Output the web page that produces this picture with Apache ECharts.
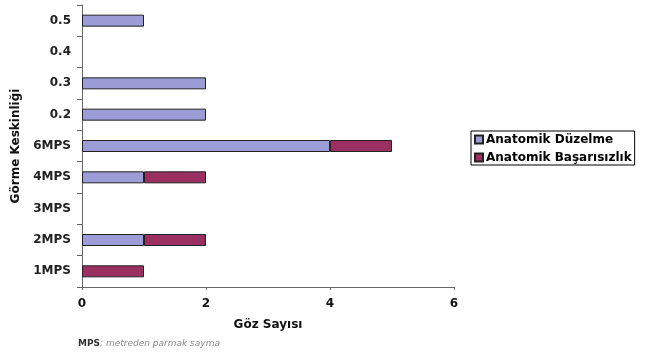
<!DOCTYPE html>
<html><head><meta charset="utf-8">
<script src="https://cdn.jsdelivr.net/npm/echarts@6/dist/echarts.min.js"></script>
<style>html,body{margin:0;padding:0;background:#fff}#c{width:646px;height:356px}</style>
</head><body><div id="c"></div>
<script>
const categories = ['1MPS','2MPS','3MPS','4MPS','6MPS','0.2','0.3','0.4','0.5'];
const duzelme = [0,1,0,1,4,2,2,0,1];
const basarisizlik = [1,1,0,1,1,0,0,0,0];
const xTicks = [0,2,4,6];
const nz = a => a.map(v => v === 0 ? null : v);
const chart = echarts.init(document.getElementById('c'), null, {renderer:'canvas'});
const F = 'DejaVu Sans';
chart.setOption({
  animation:false,
  textStyle:{fontFamily:F},
  grid:{left:82, right:192, top:5, bottom:69, containLabel:false},
  xAxis:{type:'value', min:xTicks[0], max:xTicks[xTicks.length-1], interval:2,
    name:'Göz Sayısı', nameLocation:'middle', nameGap:32,
    nameTextStyle:{fontFamily:F, fontWeight:'bold', fontSize:12, color:'#111'},
    axisLine:{show:true, lineStyle:{color:'#666', width:1}},
    axisTick:{show:true, length:3, inside:false, lineStyle:{color:'#666'}},
    axisLabel:{fontFamily:F, fontWeight:'bold', fontSize:12, color:'#111', margin:11},
    splitLine:{show:false}},
  yAxis:{type:'category', data:categories,
    name:'Görme Keskinliği', nameLocation:'middle', nameGap:56, nameRotate:90,
    nameTextStyle:{fontFamily:F, fontWeight:'bold', fontSize:12, color:'#111'},
    axisLine:{show:true, lineStyle:{color:'#666', width:1}},
    axisTick:{show:true, length:5, alignWithLabel:false, lineStyle:{color:'#666'}},
    axisLabel:{fontFamily:F, fontWeight:'bold', fontSize:12, color:'#222', margin:11}},
  legend:{orient:'vertical', left:471, top:131, itemWidth:8, itemHeight:8, itemGap:5,
    padding:[2,3,1,3], borderColor:'#000', borderWidth:1, borderRadius:0,
    textStyle:{fontFamily:F, fontWeight:'bold', fontSize:12, lineHeight:13, color:'#000', padding:[0,0,0,-2]},
    data:[{name:'Anatomik Düzelme', icon:'rect'},{name:'Anatomik Başarısızlık', icon:'rect'}]},
  series:[
    {name:'Anatomik Düzelme', type:'bar', stack:'a', data:nz(duzelme), barWidth:12,
      itemStyle:{color:'#9c9cd6', borderColor:'#222', borderWidth:1}},
    {name:'Anatomik Başarısızlık', type:'bar', stack:'a', data:nz(basarisizlik), barWidth:12,
      itemStyle:{color:'#9b2f62', borderColor:'#222', borderWidth:1}}
  ],
  graphic:[{type:'text', left:78, top:339, style:{
    rich:{b:{fontFamily:F, fontWeight:'bold', fontSize:9, fill:'#333'}, i:{fontFamily:F, fontStyle:'italic', fontSize:9, fill:'#888'}},
    text:'{b|MPS}{i|; metreden parmak sayma}'}}]
});
</script></body></html>
